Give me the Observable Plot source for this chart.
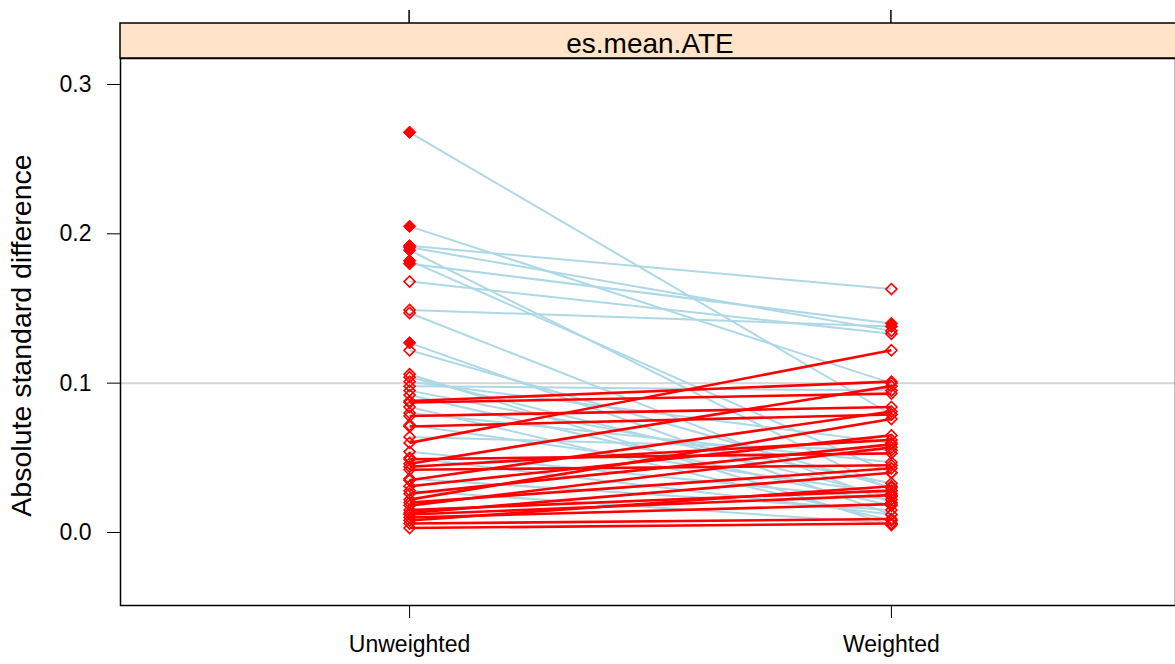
<!DOCTYPE html>
<html><head><meta charset="utf-8">
<script src="https://cdn.jsdelivr.net/npm/d3@7"></script>
<script src="https://cdn.jsdelivr.net/npm/@observablehq/plot@0.6"></script>
<style>body{margin:0;background:#fff} svg{overflow:hidden}</style>
</head><body><div id="chart"></div>
<script>
const stages = ["Unweighted", "Weighted"];
const panelTitle = "es.mean.ATE";
const yLabel = "Absolute standard difference";
const yTicks = [0, 0.1, 0.2, 0.3];
const refLine = 0.1;

// absolute standardized differences per covariate
const unweighted = [
  0.268, 0.205, 0.192, 0.191, 0.189, 0.182, 0.180, 0.149, 0.168, 0.147,
  0.127, 0.122, 0.106, 0.104, 0.101, 0.098, 0.095, 0.092, 0.084, 0.080,
  0.072, 0.064, 0.054, 0.050, 0.036, 0.028,
  0.060, 0.088, 0.087, 0.078, 0.071, 0.046, 0.044, 0.042, 0.035, 0.031,
  0.026, 0.022, 0.020, 0.018, 0.015, 0.013, 0.012, 0.010, 0.008, 0.006,
  0.003, 0.049
];
const weighted = [
  0.079, 0.100, 0.163, 0.135, 0.028, 0.040, 0.140, 0.138, 0.133, 0.020,
  0.012, 0.030, 0.005, 0.024, 0.060, 0.095, 0.033, 0.018, 0.008, 0.047,
  0.026, 0.055, 0.022, 0.012, 0.015, 0.006,
  0.122, 0.101, 0.093, 0.084, 0.079, 0.098, 0.062, 0.045, 0.081, 0.065,
  0.059, 0.076, 0.043, 0.057, 0.028, 0.040, 0.025, 0.019, 0.031, 0.009,
  0.006, 0.053
];
// significant differences drawn as filled symbols
const unweightedSig = [
  1, 1, 1, 1, 1, 1, 1, 0, 0, 0,
  1, 0, 0, 0, 0, 0, 0, 0, 0, 0,
  0, 0, 0, 0, 0, 0,
  0, 0, 0, 0, 0, 0, 0, 0, 0, 0,
  0, 0, 0, 0, 0, 0, 0, 0, 0, 0,
  0, 0
];
const weightedSig = [
  0, 0, 0, 0, 0, 0, 1, 1, 0, 0,
  0, 0, 0, 0, 0, 0, 0, 0, 0, 0,
  0, 0, 0, 0, 0, 0,
  0, 0, 0, 0, 0, 0, 0, 0, 0, 0,
  0, 0, 0, 0, 0, 0, 0, 0, 0, 0,
  0, 0
];

(function () {
const rows = unweighted.map((u, i) => ({u, w: weighted[i], up: weighted[i] > u}));
const pts = rows.flatMap((r, i) => [
  {x: 1, y: r.u, sig: !!unweightedSig[i]},
  {x: 2, y: r.w, sig: !!weightedSig[i]}
]);

const font = "'Liberation Sans', Arial, sans-serif";

const plot = Plot.plot({
  width: 1175, height: 664,
  marginTop: 58, marginBottom: 59, marginLeft: 120, marginRight: 0,
  style: {fontFamily: font, fontSize: "23px", color: "#000", background: "#fff"},
  x: {domain: [0.4, 2.6], range: [120, 1180]},
  y: {domain: [-0.0489, 0.3174]},
  marks: [
    Plot.ruleY([refLine], {stroke: "#d6d6d6", strokeWidth: 2}),
    Plot.link(rows.filter(r => !r.up), {x1: () => 1, x2: () => 2, y1: "u", y2: "w", stroke: "#ADD8E6", strokeWidth: 2}),
    Plot.link(rows.filter(r => r.up), {x1: () => 1, x2: () => 2, y1: "u", y2: "w", stroke: "#ff0000", strokeWidth: 2.6}),
    Plot.dot(pts.filter(p => !p.sig), {x: "x", y: "y", symbol: "diamond2", r: 5, stroke: "#ff0000", strokeWidth: 1.6, fill: "none"}),
    Plot.dot(pts.filter(p => p.sig), {x: "x", y: "y", symbol: "diamond2", r: 5.6, stroke: "#ff0000", strokeWidth: 1, fill: "#ff0000"}),
    Plot.axisX({ticks: [1, 2], tickFormat: d => stages[d - 1], tickSize: 13, tickPadding: 17, label: null, fontSize: 23}),
    Plot.axisY({ticks: yTicks, tickFormat: d3.format(".1f"), tickSize: 13, tickPadding: 16, label: null, fontSize: 23}),
    Plot.frame({stroke: "#000", strokeWidth: 1.5})
  ]
});

const svg = d3.select(plot);
const xs = plot.scale("x");
const ys = plot.scale("y");
const left = xs.range[0], right = xs.range[1];
const panelTop = ys.range[1];
const stripTop = panelTop - 35;

svg.append("rect")
  .attr("x", left).attr("y", stripTop).attr("width", right - left).attr("height", panelTop - stripTop)
  .attr("fill", "#FFE4CA").attr("stroke", "#000").attr("stroke-width", 1.5);
svg.append("text")
  .attr("x", (left + right) / 2).attr("y", panelTop - 5)
  .attr("text-anchor", "middle").attr("font-family", font).attr("font-size", 28).attr("fill", "#000")
  .text(panelTitle);
[1, 2].forEach(v => {
  const px = left + (v - xs.domain[0]) / (xs.domain[1] - xs.domain[0]) * (right - left);
  svg.append("line").attr("x1", px).attr("x2", px).attr("y1", stripTop - 13).attr("y2", stripTop)
    .attr("stroke", "#000").attr("stroke-width", 1.5);
});
const ymid = (ys.range[0] + ys.range[1]) / 2 + 4;
svg.append("text")
  .attr("transform", `translate(31,${ymid}) rotate(-90)`)
  .attr("text-anchor", "middle").attr("font-family", font).attr("font-size", 28.5).attr("fill", "#000")
  .text(yLabel);

document.getElementById("chart").appendChild(plot);
})();
</script>
</body></html>
